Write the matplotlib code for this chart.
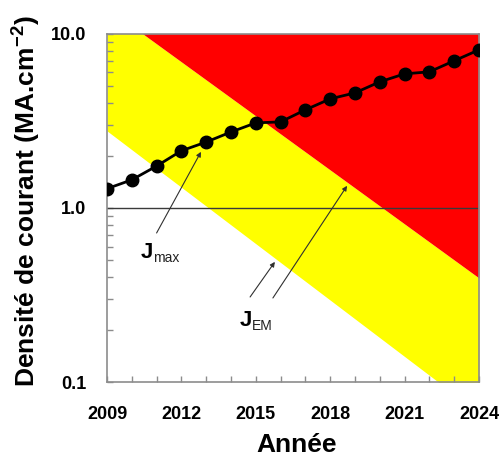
import matplotlib
matplotlib.use("Agg")
import matplotlib.pyplot as plt
import numpy as np
from matplotlib.ticker import FixedLocator, FuncFormatter, LogLocator, NullFormatter

plt.rcParams['font.family'] = ['Liberation Sans', 'DejaVu Sans']

# données
annees = [2009, 2010, 2011, 2012, 2013, 2014, 2015, 2016,
          2017, 2018, 2019, 2020, 2021, 2022, 2023, 2024]
j_max = [1.29, 1.45, 1.74, 2.13, 2.39, 2.73, 3.08, 3.12,
         3.66, 4.23, 4.58, 5.30, 5.89, 6.05, 7.00, 8.09]

# limites des zones (droites en échelle log)
bord_annees = [2009, 2024]
bord_rouge = [14.1, 0.396]
bord_jaune = [2.77, 0.0665]

x_ticks = [2009, 2012, 2015, 2018, 2021, 2024]
y_ticks = [0.1, 1.0, 10.0]

fig = plt.figure(figsize=(5.0, 4.57), dpi=100)
ax = fig.add_axes([0.214, 0.164, 0.744, 0.762])

ax.set_yscale("log")
ax.fill_between(bord_annees, bord_jaune, bord_rouge, color="#ffff00", lw=0, zorder=1)
ax.fill_between(bord_annees, bord_rouge, [100, 100], color="#ff0000", lw=0, zorder=1)
ax.axhline(1.0, color="#3a3a3a", lw=1.0, zorder=2)
ax.plot(annees, j_max, "-o", color="black", lw=2, ms=9, zorder=4)

ax.set_xlim(2009, 2024)
ax.set_ylim(0.1, 10.0)

ax.xaxis.set_major_locator(FixedLocator(x_ticks))
ax.xaxis.set_minor_locator(FixedLocator(annees))
ax.yaxis.set_major_locator(FixedLocator(y_ticks))
ax.yaxis.set_minor_locator(LogLocator(base=10, subs=np.arange(2, 10)))
ax.yaxis.set_minor_formatter(NullFormatter())
ax.yaxis.set_major_formatter(FuncFormatter(lambda v, p: f"{v:.1f}"))

for s in ax.spines.values():
    s.set_color("#8c8c8c")
    s.set_linewidth(1.2)
ax.tick_params(which="both", direction="in", color="#8c8c8c", length=4, width=1.0,
               top=False, right=False)
ax.tick_params(axis="x", which="major", pad=17, labelsize=13)
ax.tick_params(axis="y", which="major", pad=15, labelsize=13)
for lab in ax.get_xticklabels() + ax.get_yticklabels():
    lab.set_fontweight("bold")

fleche = dict(arrowstyle="-|>", color="#303030", lw=0.8, mutation_scale=7,
              shrinkA=0, shrinkB=0)
ax.annotate("", xy=(2012.79, 2.10), xytext=(2011.0, 0.718), arrowprops=fleche, zorder=3)
ax.annotate("", xy=(2015.77, 0.49), xytext=(2014.77, 0.308), arrowprops=fleche, zorder=3)
ax.annotate("", xy=(2018.68, 1.34), xytext=(2015.69, 0.304), arrowprops=fleche, zorder=3)


def etiquette(x, y, indice):
    ax.text(x, y, "J", fontsize=16, fontweight="bold", ha="left", va="baseline", zorder=5)
    ax.annotate(indice, xy=(x, y), xytext=(8.5, -3), textcoords="offset points",
                fontsize=10, color="#222222", ha="left", va="baseline", zorder=5)


etiquette(2010.37, 0.516, "max")
etiquette(2014.36, 0.21, "EM")

fig.text(26 / 500, 1 - 201 / 457, r"Densité de courant (MA.cm$^{\mathregular{-2}}$)",
         rotation=90, ha="center", va="center", fontsize=19, fontweight="bold")
fig.text(297 / 500, 1 - 445 / 457, "Année", ha="center", va="center",
         fontsize=19, fontweight="bold")

fig.savefig("out.png", dpi=100)
